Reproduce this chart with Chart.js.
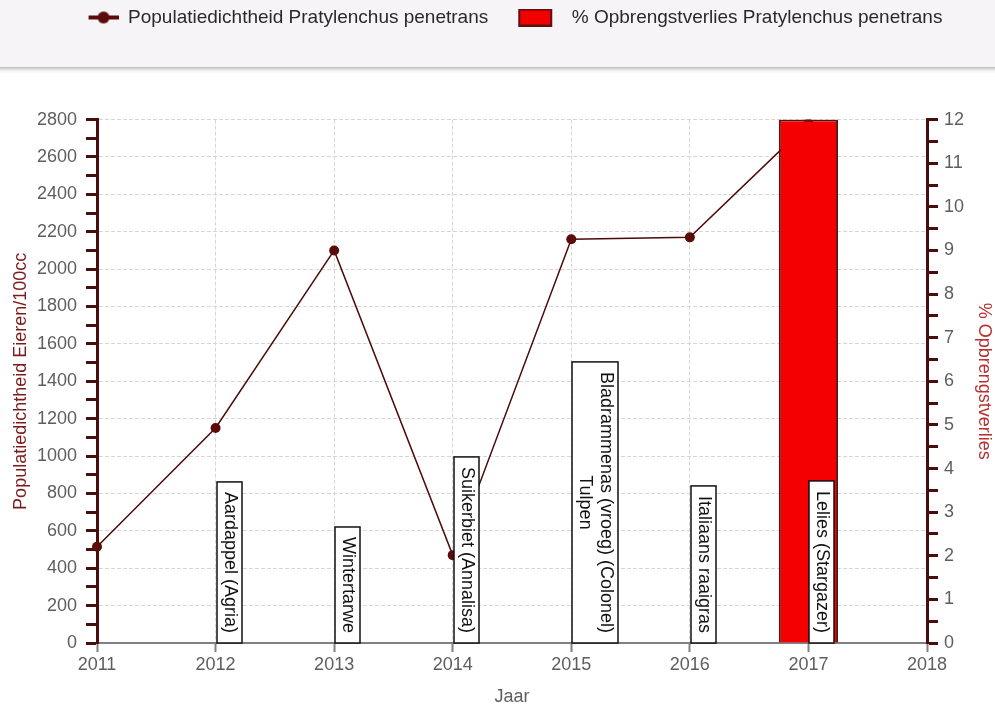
<!DOCTYPE html>
<html>
<head>
<meta charset="utf-8">
<title>Pratylenchus penetrans</title>
<script src="https://cdn.jsdelivr.net/npm/chart.js@4.4.1/dist/chart.umd.min.js"></script>
<style>
  html, body { margin: 0; padding: 0; background: #fff; }
  #wrap { position: relative; width: 995px; height: 708px; }
</style>
</head>
<body>
<div id="wrap"><canvas id="cropChart"></canvas></div>
<script>
// jaren, populatiedichtheid (eieren/100cc), % opbrengstverlies en teelt per jaar
const years = ['2011', '2012', '2013', '2014', '2015', '2016', '2017', '2018'];
const density = [515, 1150, 2100, 470, 2160, 2170, 2780, null];
const yieldLoss = [null, null, null, null, null, null, 12, null];
const crops = [
    '',
    'Aardappel (Agria)',
    'Wintertarwe',
    'Suikerbiet (Annalisa)',
    ['Bladrammenas (vroeg) (Colonel)', 'Tulpen'],
    'Italiaans raaigras',
    'Lelies (Stargazer)',
    ''
];

const densityLabel = 'Populatiedichtheid Pratylenchus penetrans';
const lossLabel = '% Opbrengstverlies Pratylenchus penetrans';

const FONT = "Arial, 'Liberation Sans', sans-serif";
const MAROON = '#4a0d0d';
const TICK_GREY = '#5e5e5e';
const ICON_W = 66;

Chart.defaults.font.family = FONT;
Chart.defaults.font.size = 18;

// legendasymbolen: lijn met punt en rood vlak, rechts uitgelijnd in een vak van ICON_W
function lineIcon(){
    const c = document.createElement('canvas');
    c.width = ICON_W; c.height = 14;
    const g = c.getContext('2d');
    g.strokeStyle = '#5c0a0a';
    g.lineWidth = 4;
    g.beginPath(); g.moveTo(ICON_W - 30, 7); g.lineTo(ICON_W, 7); g.stroke();
    g.fillStyle = '#5c0a0a';
    g.beginPath(); g.arc(ICON_W - 15, 7, 6, 0, Math.PI * 2); g.fill();
    return c;
}

function barIcon(){
    const c = document.createElement('canvas');
    c.width = ICON_W; c.height = 18;
    const g = c.getContext('2d');
    const x0 = ICON_W - 44;
    g.fillStyle = '#f20000';
    g.fillRect(x0, 0, 34, 18);
    g.strokeStyle = '#5a1212';
    g.lineWidth = 2;
    g.strokeRect(x0 + 1, 1, 32, 16);
    return c;
}

// grijze kopbalk achter de legenda
const headerBand = {
    id: 'headerBand',
    beforeDraw(chart){
        const { ctx, width } = chart;
        ctx.save();
        ctx.fillStyle = '#f6f4f6';
        ctx.fillRect(0, 0, width, 68);
        const g = ctx.createLinearGradient(0, 67, 0, 74);
        g.addColorStop(0, '#b8b8b8');
        g.addColorStop(1, 'rgba(255,255,255,0)');
        ctx.fillStyle = g;
        ctx.fillRect(0, 67, width, 7);
        ctx.restore();
    }
};

// staande tekstvakjes met de teelt van elk jaar
const cropLabels = {
    id: 'cropLabels',
    afterDatasetsDraw(chart){
        const { ctx, chartArea, scales } = chart;
        const lineH = 21;
        ctx.save();
        ctx.font = '18px ' + FONT;
        crops.forEach((crop, i) => {
            if(!crop) return;
            const lines = Array.isArray(crop) ? crop : [crop];
            const textLen = Math.max(...lines.map(l => ctx.measureText(l).width));
            const w = lines.length * lineH + 4;
            const h = textLen + 20;
            const left = Math.round(scales.x.getPixelForValue(i)) + 1;
            const bottom = chartArea.bottom;

            ctx.save();
            ctx.fillStyle = '#ffffff';
            ctx.fillRect(left, bottom - h, w, h);
            ctx.strokeStyle = '#111111';
            ctx.lineWidth = 1.5;
            ctx.strokeRect(left, bottom - h, w, h);

            ctx.translate(left + w / 2, bottom - h / 2);
            ctx.rotate(Math.PI / 2);
            ctx.fillStyle = '#111111';
            ctx.textAlign = 'center';
            ctx.textBaseline = 'middle';
            lines.forEach((line, j) => {
                ctx.fillText(line, 0, (j - (lines.length - 1) / 2) * lineH);
            });
            ctx.restore();
        });
        ctx.restore();
    }
};

const icons = [lineIcon(), barIcon()];

const config = {
    data: {
        labels: years,
        datasets: [
            {
                type: 'bar',
                label: lossLabel,
                data: yieldLoss,
                yAxisID: 'y1',
                backgroundColor: '#f50000',
                borderColor: '#5a1212',
                borderWidth: 2,
                barPercentage: 0.5,
                categoryPercentage: 1,
                order: 0
            },
            {
                type: 'line',
                label: densityLabel,
                data: density,
                yAxisID: 'y',
                borderColor: '#4d0b0b',
                borderWidth: 1.5,
                pointRadius: 5,
                pointBackgroundColor: '#5c0a0a',
                pointBorderColor: '#5c0a0a',
                pointBorderWidth: 0,
                tension: 0,
                order: 1
            }
        ]
    },
    options: {
        responsive: false,
        animation: false,
        layout: { padding: 0 },
        plugins: {
            tooltip: { enabled: false },
            legend: {
                position: 'top',
                weight: 1000,
                labels: {
                    usePointStyle: true,
                    pointStyleWidth: ICON_W,
                    boxHeight: 18,
                    padding: 8,
                    color: '#2a2a2a',
                    font: { size: 19 },
                    generateLabels: () => [
                        { text: densityLabel, pointStyle: icons[0], fillStyle: 'transparent', strokeStyle: 'transparent', lineWidth: 0, hidden: false, datasetIndex: 1, fontColor: '#2a2a2a' },
                        { text: lossLabel, pointStyle: icons[1], fillStyle: 'transparent', strokeStyle: 'transparent', lineWidth: 0, hidden: false, datasetIndex: 0, fontColor: '#2a2a2a' }
                    ]
                }
            },
            // lege titel onder de legenda als witruimte boven het plotvlak
            title: {
                display: true,
                text: '',
                weight: 500,
                font: { size: 18 },
                padding: { top: 0, bottom: 61 }
            }
        },
        scales: {
            x: {
                type: 'category',
                offset: false,
                grid: {
                    offset: false,
                    color: '#d6d6d6',
                    tickColor: '#808080',
                    tickWidth: 2,
                    tickLength: 9
                },
                border: { color: '#808080', width: 2, dash: [4, 2] },
                ticks: { color: TICK_GREY, padding: 2, autoSkip: false, maxRotation: 0 },
                title: { display: true, text: 'Jaar', color: TICK_GREY, padding: { top: 0, bottom: 0 } },
                afterFit: s => { s.height = 65; }
            },
            y: {
                position: 'left',
                min: 0,
                max: 2800,
                ticks: {
                    stepSize: 100,
                    autoSkip: false,
                    color: TICK_GREY,
                    padding: 9,
                    callback: v => v % 200 === 0 ? v : ''
                },
                grid: {
                    color: c => (c.tick && c.tick.value % 200 === 0) ? '#d6d6d6' : 'rgba(0,0,0,0)',
                    tickColor: MAROON,
                    tickWidth: 3,
                    tickLength: 11
                },
                border: { color: MAROON, width: 3, dash: [4, 2] },
                title: {
                    display: true,
                    text: 'Populatiedichtheid Eieren/100cc',
                    color: '#7a1c1c',
                    padding: { top: 10, bottom: 0 }
                },
                afterFit: s => { s.width = 97; }
            },
            y1: {
                position: 'right',
                min: 0,
                max: 12,
                ticks: {
                    stepSize: 0.5,
                    autoSkip: false,
                    color: TICK_GREY,
                    padding: 6,
                    callback: v => Number.isInteger(v) ? v : ''
                },
                grid: {
                    drawOnChartArea: false,
                    tickColor: MAROON,
                    tickWidth: 3,
                    tickLength: 11
                },
                border: { color: MAROON, width: 3 },
                title: {
                    display: true,
                    text: '% Opbrengstverlies',
                    color: '#b83232',
                    padding: { top: 0, bottom: 2 }
                },
                afterFit: s => { s.width = 68; }
            }
        }
    },
    plugins: [headerBand, cropLabels]
};

const canvas = document.getElementById('cropChart');
canvas.width = 995;
canvas.height = 708;
new Chart(canvas.getContext('2d'), config);
</script>
</body>
</html>
